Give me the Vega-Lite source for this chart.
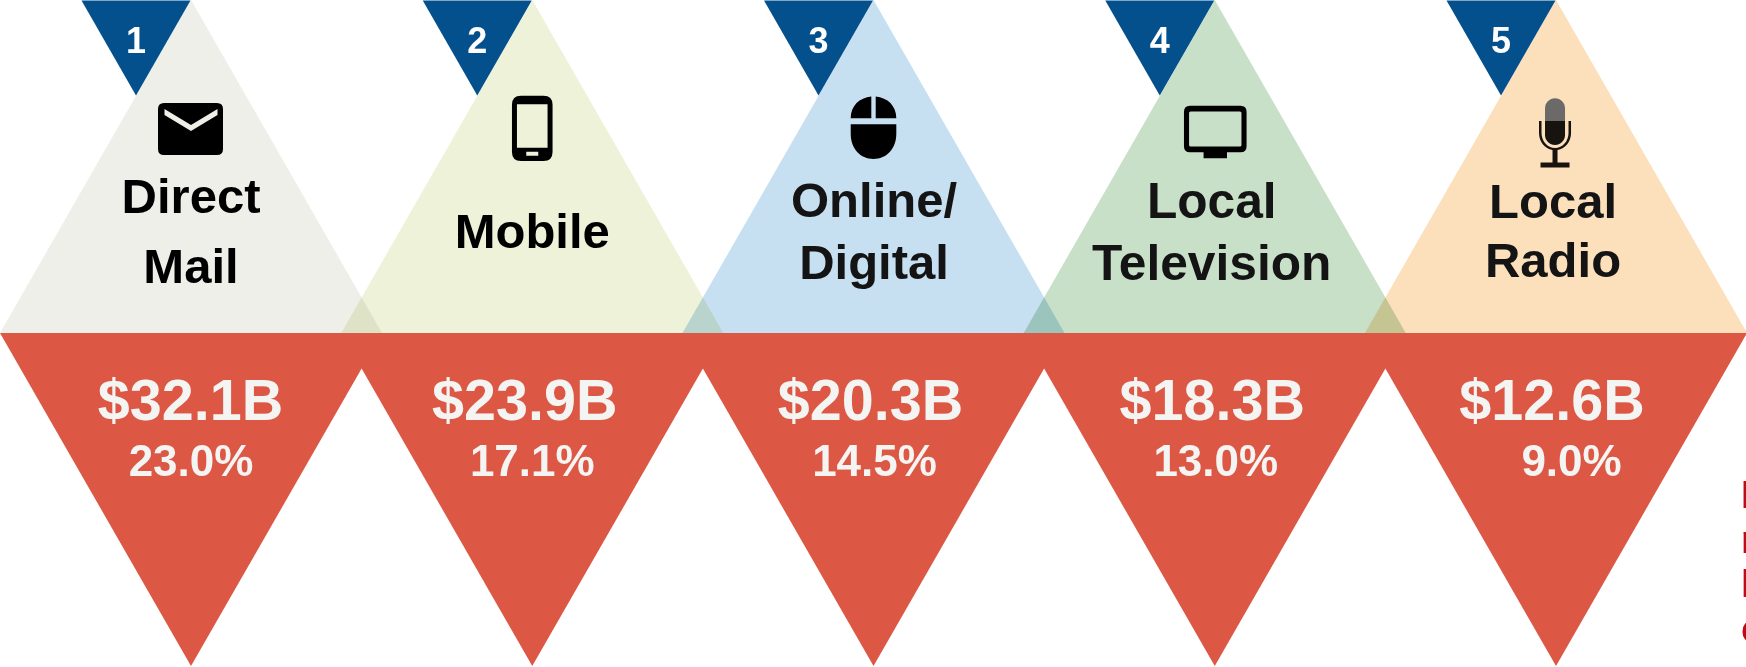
{
"$schema":"https://vega.github.io/schema/vega-lite/v6.json",
"width":1746,"height":667,"padding":0,"autosize":{"type":"none"},"background":"white",
"config":{"view":{"stroke":null},"axis":{"disable":true},"text":{"font":"Liberation Sans","fontWeight":"bold"}},
"datasets":{
"channels":[
{"rank":1,"channel":"Direct Mail","label":["Direct","Mail"],"spend_label":"$32.1B","share_label":"23.0%"},
{"rank":2,"channel":"Mobile","label":["Mobile"],"spend_label":"$23.9B","share_label":"17.1%"},
{"rank":3,"channel":"Online/Digital","label":["Online/","Digital"],"spend_label":"$20.3B","share_label":"14.5%"},
{"rank":4,"channel":"Local Television","label":["Local","Television"],"spend_label":"$18.3B","share_label":"13.0%"},
{"rank":5,"channel":"Local Radio","label":["Local","Radio"],"spend_label":"$12.6B","share_label":"9.0%","note_fragment":["B","r","h","c"]}
]
},
"data":{"name":"channels"},
"encoding":{"x":{"field":"rank","type":"quantitative","scale":{"domain":[0.4403,5.5567],"nice":false,"zero":false}}},
"layer":[
{"mark":{"type":"point","filled":true,"opacity":1,"size":145924,"shape":"M0,-0.8717L1,0.8717L-1,0.8717Z","blend":"multiply"},
 "encoding":{"y":{"datum":24.96,"type":"quantitative","scale":{"domain":[0,100],"reverse":true,"nice":false,"zero":false}},
 "color":{"field":"channel","type":"nominal","legend":null,"scale":{"domain":["Direct Mail","Mobile","Online/Digital","Local Television","Local Radio"],"range":["#EEEFE9","#EEF2D9","#C6DFF1","#C8E0C8","#FCE0BC"]}}}},
{"mark":{"type":"point","filled":true,"opacity":1,"size":145924,"shape":"M-1,-0.8717L1,-0.8717L0,0.8717Z","color":"#DD5745"},
 "encoding":{"y":{"datum":74.89,"type":"quantitative","scale":{"domain":[0,100],"reverse":true,"nice":false,"zero":false}}}},
{"mark":{"type":"point","filled":true,"opacity":1,"size":11881,"shape":"M-1,-0.8717L1,-0.8717L0,0.8717Z","color":"#04508C","xOffset":-55},
 "encoding":{"y":{"datum":7.2,"type":"quantitative","scale":{"domain":[0,100],"reverse":true,"nice":false,"zero":false}}}},
{"mark":{"type":"text","fontSize":36,"color":"#FFFFFF","xOffset":-55,"baseline":"alphabetic"},
 "encoding":{"text":{"field":"rank","type":"ordinal"},"y":{"datum":7.95,"type":"quantitative","scale":{"domain":[0,100],"reverse":true,"nice":false,"zero":false}}}},

{"transform":[{"filter":"datum.rank===1"}],"mark":{"type":"point","filled":true,"opacity":1,"size":4,"color":"#000000","xOffset":-0.5,
 "shape":"M-26.5,-26H26.5Q32.5,-26 32.5,-20V20Q32.5,26 26.5,26H-26.5Q-32.5,26 -32.5,20V-20Q-32.5,-26 -26.5,-26ZM-26,-20L-26,-14L0.5,2L27,-14L27,-20L0.5,-4Z"},
 "encoding":{"y":{"datum":19.34,"type":"quantitative","scale":{"domain":[0,100],"reverse":true,"nice":false,"zero":false}}}},
{"transform":[{"filter":"datum.rank===2"}],"mark":{"type":"point","filled":true,"opacity":1,"size":4,"color":"#000000",
 "shape":"M-11.3,-32.7H11.3Q20.3,-32.7 20.3,-23.7V23.7Q20.3,32.7 11.3,32.7H-11.3Q-20.3,32.7 -20.3,23.7V-23.7Q-20.3,-32.7 -11.3,-32.7ZM-15.3,-24V19.4H15.3V-24ZM-6,23.4V27.4H6V23.4Z"},
 "encoding":{"y":{"datum":19.24,"type":"quantitative","scale":{"domain":[0,100],"reverse":true,"nice":false,"zero":false}}}},
{"transform":[{"filter":"datum.rank===3"}],"mark":{"type":"point","filled":true,"opacity":1,"size":4,"color":"#000000",
 "shape":"M-2.2,-31.2V-9.5H-22.8C-22.8,-22 -14,-30 -2.2,-31.2ZM2.2,-31.2C14,-30 22.8,-22 22.8,-9.5H2.2ZM-22.8,-3.5H22.8V6C22.8,21 13,31.2 0,31.2C-13,31.2 -22.8,21 -22.8,6Z"},
 "encoding":{"y":{"datum":19.16,"type":"quantitative","scale":{"domain":[0,100],"reverse":true,"nice":false,"zero":false}}}},
{"transform":[{"filter":"datum.rank===4"}],"mark":{"type":"point","filled":true,"opacity":1,"size":4,"color":"#000000","xOffset":0.5,
 "shape":"M-25.3,-23.2H25.3Q31.3,-23.2 31.3,-17.2V17.2Q31.3,23.2 25.3,23.2H11.7V29.3H-11.7V23.2H-25.3Q-31.3,23.2 -31.3,17.2V-17.2Q-31.3,-23.2 -25.3,-23.2ZM-24.7,-17.5Q-26.2,-17.5 -26.2,-16V16Q-26.2,17.5 -24.7,17.5H24.7Q26.2,17.5 26.2,16V-16Q26.2,-17.5 24.7,-17.5Z"},
 "encoding":{"y":{"datum":19.34,"type":"quantitative","scale":{"domain":[0,100],"reverse":true,"nice":false,"zero":false}}}},
{"transform":[{"filter":"datum.rank===5"}],"mark":{"type":"point","filled":true,"opacity":1,"size":4,"color":"#6C6A68","xOffset":-1,
 "shape":"M-10,-12V-24.7A10,10 0 0 1 10,-24.7V-12Z"},
 "encoding":{"y":{"datum":19.94,"type":"quantitative","scale":{"domain":[0,100],"reverse":true,"nice":false,"zero":false}}}},
{"transform":[{"filter":"datum.rank===5"}],"mark":{"type":"point","filled":true,"opacity":1,"size":4,"color":"#17130F","xOffset":-1,
 "shape":"M-10,-12H10V2A10,10 0 0 1 -10,2ZM-16,-12H-13.5V0A13.5,15 0 0 0 13.5,0V-12H16V0A16,17 0 0 1 2.5,17V29.5H14.5V34.5H-14.5V29.5H-2.5V17A16,17 0 0 1 -16,0Z"},
 "encoding":{"y":{"datum":19.94,"type":"quantitative","scale":{"domain":[0,100],"reverse":true,"nice":false,"zero":false}}}},

{"transform":[{"filter":"datum.rank===1"}],"mark":{"type":"text","fontSize":49,"lineHeight":70,"color":"#000000","baseline":"alphabetic"},
 "encoding":{"text":{"field":"label"},"y":{"datum":31.93,"type":"quantitative","scale":{"domain":[0,100],"reverse":true,"nice":false,"zero":false}}}},
{"transform":[{"filter":"datum.rank===2"}],"mark":{"type":"text","fontSize":49,"color":"#000000","baseline":"alphabetic"},
 "encoding":{"text":{"field":"label"},"y":{"datum":37.18,"type":"quantitative","scale":{"domain":[0,100],"reverse":true,"nice":false,"zero":false}}}},
{"transform":[{"filter":"datum.rank===3"}],"mark":{"type":"text","fontSize":49,"lineHeight":62,"color":"#141414","baseline":"alphabetic","xOffset":0.5},
 "encoding":{"text":{"field":"label"},"y":{"datum":32.53,"type":"quantitative","scale":{"domain":[0,100],"reverse":true,"nice":false,"zero":false}}}},
{"transform":[{"filter":"datum.rank===4"}],"mark":{"type":"text","fontSize":49.7,"lineHeight":62,"color":"#141414","baseline":"alphabetic","xOffset":-3},
 "encoding":{"text":{"field":"label"},"y":{"datum":32.65,"type":"quantitative","scale":{"domain":[0,100],"reverse":true,"nice":false,"zero":false}}}},
{"transform":[{"filter":"datum.rank===5"}],"mark":{"type":"text","fontSize":49,"lineHeight":59,"color":"#141414","baseline":"alphabetic","xOffset":-3},
 "encoding":{"text":{"field":"label"},"y":{"datum":32.68,"type":"quantitative","scale":{"domain":[0,100],"reverse":true,"nice":false,"zero":false}}}},

{"transform":[{"filter":"datum.rank===1"}],"mark":{"type":"text","fontSize":57.5,"color":"#F4F4F2","baseline":"alphabetic","xOffset":-0.5},
 "encoding":{"text":{"field":"spend_label"},"y":{"datum":62.97,"type":"quantitative","scale":{"domain":[0,100],"reverse":true,"nice":false,"zero":false}}}},
{"transform":[{"filter":"datum.rank===2"}],"mark":{"type":"text","fontSize":57.5,"color":"#F4F4F2","baseline":"alphabetic","xOffset":-7.5},
 "encoding":{"text":{"field":"spend_label"},"y":{"datum":62.97,"type":"quantitative","scale":{"domain":[0,100],"reverse":true,"nice":false,"zero":false}}}},
{"transform":[{"filter":"datum.rank===3"}],"mark":{"type":"text","fontSize":57.5,"color":"#F4F4F2","baseline":"alphabetic","xOffset":-3},
 "encoding":{"text":{"field":"spend_label"},"y":{"datum":62.97,"type":"quantitative","scale":{"domain":[0,100],"reverse":true,"nice":false,"zero":false}}}},
{"transform":[{"filter":"datum.rank===4"}],"mark":{"type":"text","fontSize":57.5,"color":"#F4F4F2","baseline":"alphabetic","xOffset":-2.5},
 "encoding":{"text":{"field":"spend_label"},"y":{"datum":62.97,"type":"quantitative","scale":{"domain":[0,100],"reverse":true,"nice":false,"zero":false}}}},
{"transform":[{"filter":"datum.rank===5"}],"mark":{"type":"text","fontSize":57.5,"color":"#F4F4F2","baseline":"alphabetic","xOffset":-4},
 "encoding":{"text":{"field":"spend_label"},"y":{"datum":62.97,"type":"quantitative","scale":{"domain":[0,100],"reverse":true,"nice":false,"zero":false}}}},
{"transform":[{"filter":"datum.rank<3"}],"mark":{"type":"text","fontSize":44,"color":"#F4F4F2","baseline":"alphabetic"},
 "encoding":{"text":{"field":"share_label"},"y":{"datum":71.36,"type":"quantitative","scale":{"domain":[0,100],"reverse":true,"nice":false,"zero":false}}}},
{"transform":[{"filter":"datum.rank===3||datum.rank===4"}],"mark":{"type":"text","fontSize":44,"color":"#F4F4F2","baseline":"alphabetic","xOffset":1},
 "encoding":{"text":{"field":"share_label"},"y":{"datum":71.36,"type":"quantitative","scale":{"domain":[0,100],"reverse":true,"nice":false,"zero":false}}}},
{"transform":[{"filter":"datum.rank===5"}],"mark":{"type":"text","fontSize":44,"color":"#F4F4F2","baseline":"alphabetic","xOffset":15.5},
 "encoding":{"text":{"field":"share_label"},"y":{"datum":71.36,"type":"quantitative","scale":{"domain":[0,100],"reverse":true,"nice":false,"zero":false}}}},

{"transform":[{"filter":"datum.rank===5"}],"mark":{"type":"text","fontSize":38,"lineHeight":44.7,"color":"#C00A14","baseline":"alphabetic","align":"left","xOffset":185},
 "encoding":{"text":{"field":"note_fragment"},"y":{"datum":76.16,"type":"quantitative","scale":{"domain":[0,100],"reverse":true,"nice":false,"zero":false}}}}
]
}
